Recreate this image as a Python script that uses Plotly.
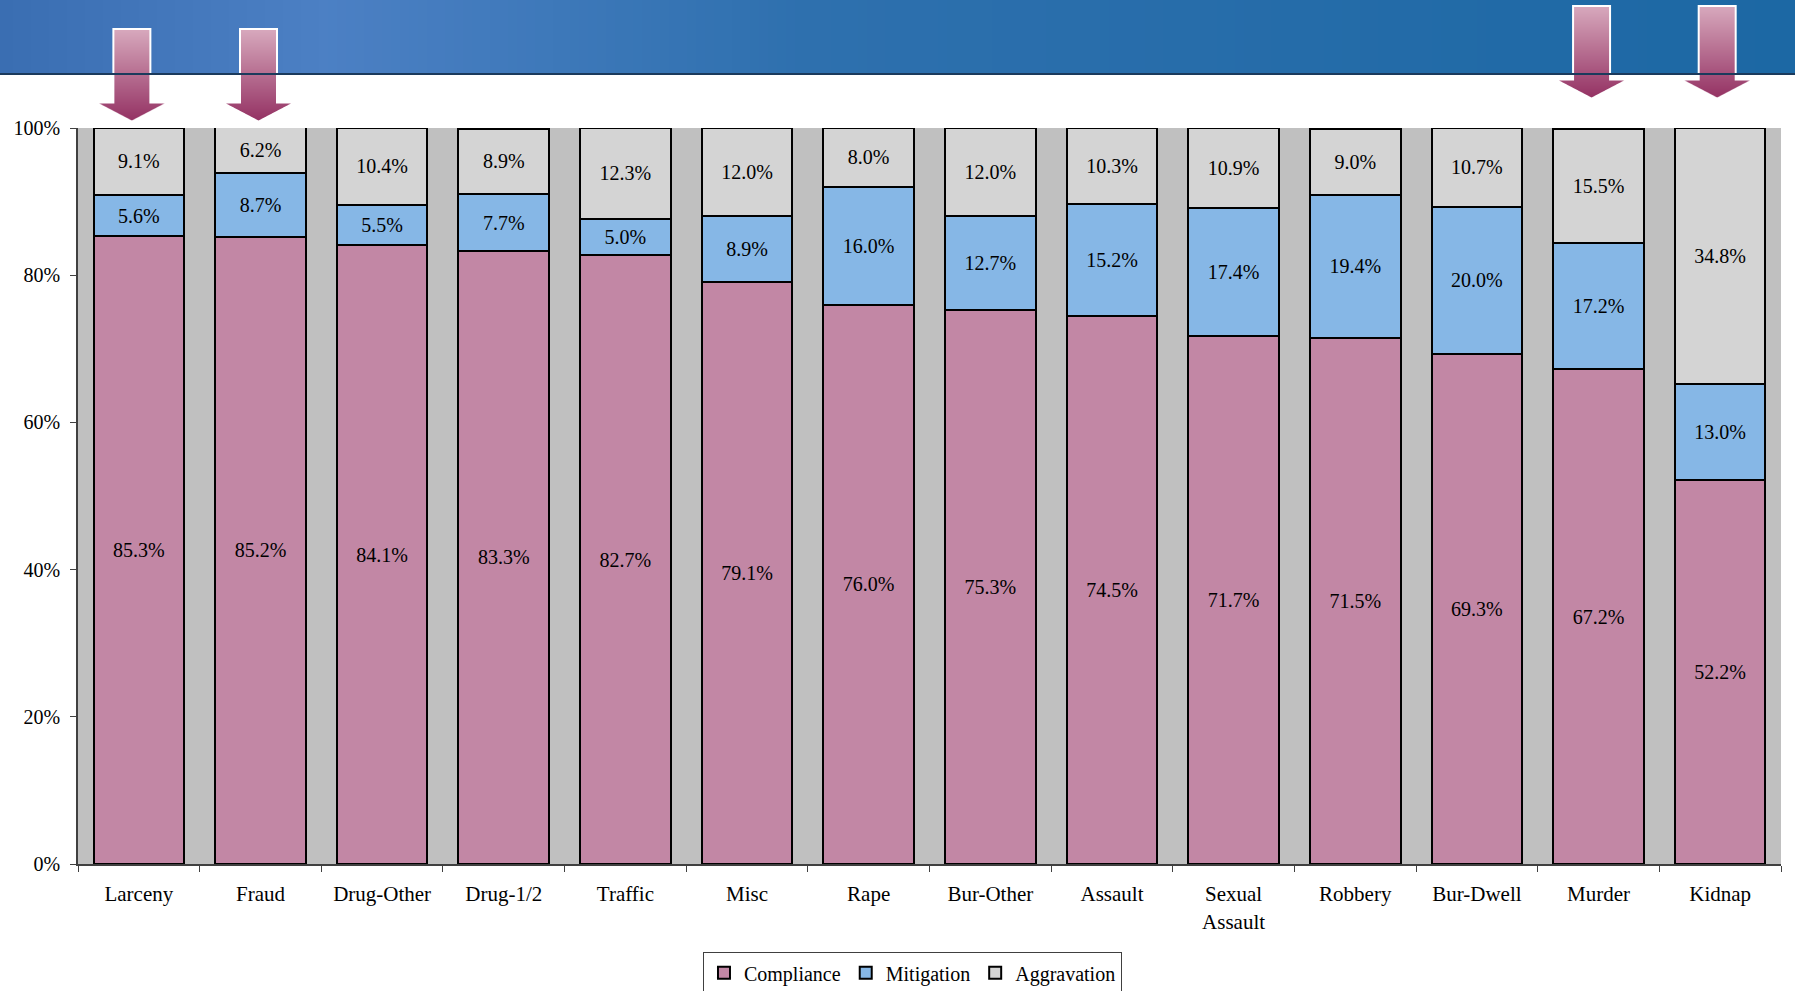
import base64, struct, zlib
import plotly.graph_objects as go

# ---------------- data ----------------
categories = ["Larceny", "Fraud", "Drug-Other", "Drug-1/2", "Traffic", "Misc", "Rape",
              "Bur-Other", "Assault", "Sexual<br>Assault", "Robbery", "Bur-Dwell", "Murder", "Kidnap"]
compliance = [85.3, 85.2, 84.1, 83.3, 82.7, 79.1, 76.0, 75.3, 74.5, 71.7, 71.5, 69.3, 67.2, 52.2]
mitigation = [5.6, 8.7, 5.5, 7.7, 5.0, 8.9, 16.0, 12.7, 15.2, 17.4, 19.4, 20.0, 17.2, 13.0]
aggravation = [9.1, 6.2, 10.4, 8.9, 12.3, 12.0, 8.0, 12.0, 10.3, 10.9, 9.0, 10.7, 15.5, 34.8]
highlighted = ["Larceny", "Fraud", "Murder", "Kidnap"]

W, H = 1795, 991
ML, MR, MT, MB = 78, 14, 128, 127
PW, PH = W - ML - MR, H - MT - MB
FONT = "Liberation Serif, Times New Roman, serif"


# ---------------- small PNG helpers (decoration only) ----------------
def png_uri(w, h, pix):
    raw = bytearray()
    for y in range(h):
        raw.append(0)
        for x in range(w):
            raw.extend(pix(x, y))
    def chunk(tag, data):
        return struct.pack(">I", len(data)) + tag + data + struct.pack(">I", zlib.crc32(tag + data) & 0xffffffff)
    ihdr = struct.pack(">IIBBBBB", w, h, 8, 6, 0, 0, 0)
    png = b"\x89PNG\r\n\x1a\n" + chunk(b"IHDR", ihdr) + chunk(b"IDAT", zlib.compress(bytes(raw))) + chunk(b"IEND", b"")
    return "data:image/png;base64," + base64.b64encode(png).decode()


def lerp(c1, c2, t):
    return tuple(int(round(a + (b - a) * t)) for a, b in zip(c1, c2))


# header band gradient
hstops = [(0.0, (58, 110, 178)), (0.18, (76, 128, 196)), (0.45, (46, 112, 174)), (1.0, (28, 104, 164))]
def header_pix(x, y):
    t = x / 199
    for (t0, c0), (t1, c1) in zip(hstops[:-1], hstops[1:]):
        if t0 <= t <= t1:
            c = lerp(c0, c1, (t - t0) / (t1 - t0))
            return (*c, 255)
    return (*hstops[-1][1], 255)
header_uri = png_uri(200, 1, header_pix)

# arrow glyph with gradient and white outline
AW, AH = 71, 95
cx = AW / 2.0
def in_arrow(x, y, shaft_half, shaft_top, head_top, head_half, tip):
    if shaft_top <= y <= head_top and abs(x - cx) <= shaft_half:
        return True
    if head_top <= y <= tip:
        hw = head_half * (tip - y) / (tip - head_top)
        return abs(x - cx) <= hw
    return False

top_col, bot_col = (216, 170, 190), (146, 46, 96)
def arrow_pix(x, y):
    outer = inner = 0
    n = 4
    for i in range(n):
        for j in range(n):
            px, py = x + (i + 0.5) / n, y + (j + 0.5) / n
            if in_arrow(px, py, 19.5, 0, 73.5, 35.5, 95):
                outer += 1
            if in_arrow(px, py, 17.5, 2, 75.5, 32.5, 92.5):
                inner += 1
    if outer == 0:
        return (255, 255, 255, 0)
    a = outer / (n * n)
    f = inner / max(outer, 1)
    g = lerp(top_col, bot_col, y / AH)
    c = lerp((255, 255, 255), g, f)
    return (*c, int(round(255 * a)))
arrow_uri = png_uri(AW, AH, arrow_pix)

# ---------------- traces ----------------
fig = go.Figure()
series = [
    ("Compliance", compliance, "#c287a5"),
    ("Mitigation", mitigation, "#86b7e6"),
    ("Aggravation", aggravation, "#d4d4d4"),
]
for name, vals, col in series:
    fig.add_trace(go.Bar(
        name=name, x=categories, y=[v / 100 for v in vals],
        text=[f"{v:.1f}%" for v in vals],
        textposition="inside", insidetextanchor="middle", textangle=0,
        textfont=dict(family=FONT, size=20, color="black"),
        marker=dict(color=col, line=dict(color="black", width=2)),
    ))

# ---------------- decoration ----------------
images = [dict(source=header_uri, xref="paper", yref="paper",
               x=-ML / PW, y=(PH + MT) / PH, sizex=W / PW, sizey=74 / PH,
               sizing="stretch", xanchor="left", yanchor="top", layer="below")]
arrow_offsets = {"Larceny": -7, "Fraud": -2, "Murder": -7, "Kidnap": -3}
arrow_tops = {"Larceny": 28, "Fraud": 28, "Murder": 5, "Kidnap": 5}
for name in highlighted:
    i = categories.index(name)
    xc = (i + 0.5) / len(categories) + arrow_offsets[name] / PW
    images.append(dict(source=arrow_uri, xref="paper", yref="paper",
                       x=xc, y=(MT - arrow_tops[name]) / PH + 1,
                       sizex=AW / PW, sizey=AH / PH, sizing="stretch",
                       xanchor="center", yanchor="top", layer="above"))

shapes = [dict(type="line", xref="paper", yref="paper",
               x0=-ML / PW, x1=(W - ML) / PW, y0=1 + (MT - 74) / PH, y1=1 + (MT - 74) / PH,
               line=dict(color="#1b3a5c", width=2))]

fig.update_layout(
    width=W, height=H,
    margin=dict(l=ML, r=MR, t=MT, b=MB, autoexpand=False),
    barmode="stack", bargap=0.255,
    paper_bgcolor="white", plot_bgcolor="#c0c0c0",
    font=dict(family=FONT, size=20, color="black"),
    showlegend=True,
    legend=dict(orientation="h", x=0.49, xanchor="center", y=-0.12, yanchor="top",
                bgcolor="white", bordercolor="#404040", borderwidth=1,
                traceorder="normal", font=dict(family=FONT, size=20, color="black")),
    images=images, shapes=shapes,
    uniformtext=dict(mode=False),
)
fig.update_xaxes(type="category", tickson="boundaries", ticks="outside", ticklen=6,
                 tickcolor="#404040", showline=True, linecolor="#404040", linewidth=2,
                 showgrid=False, ticklabelstandoff=10, automargin=False,
                 tickfont=dict(family=FONT, size=21, color="black"))
fig.update_yaxes(range=[0, 1], dtick=0.2, tickformat=".0%", ticks="outside", ticklen=6,
                 tickcolor="#404040", showline=True, linecolor="#404040", linewidth=1.5,
                 showgrid=False, zeroline=False, ticklabelstandoff=6, automargin=False,
                 tickfont=dict(family=FONT, size=20, color="black"))

fig.write_html("out.html", config={"displayModeBar": False},
               post_script="document.body.style.margin='0';document.body.style.overflow='hidden';")
